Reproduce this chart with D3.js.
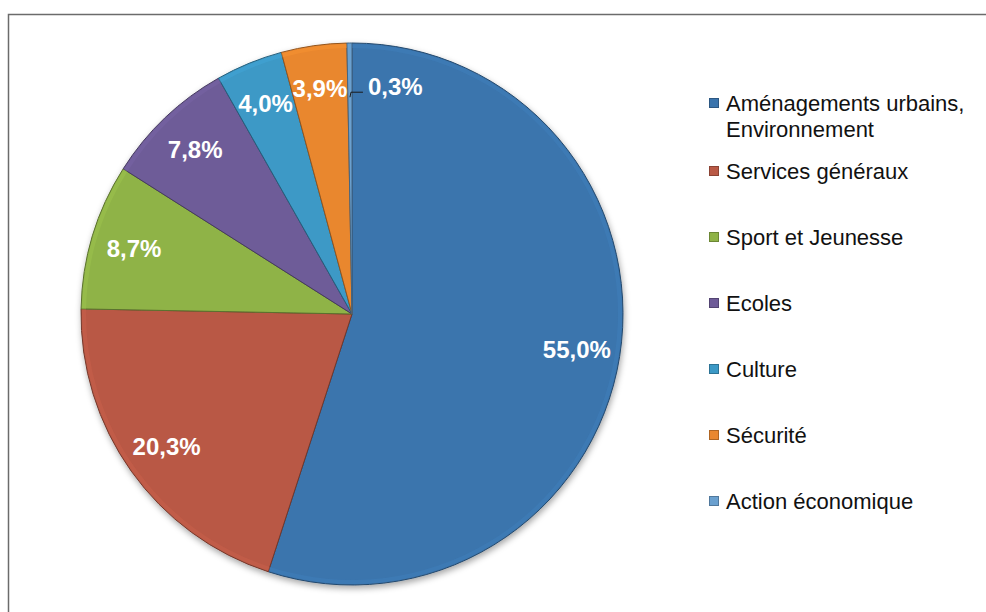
<!DOCTYPE html>
<html>
<head>
<meta charset="utf-8">
<script src="https://cdn.jsdelivr.net/npm/d3@7"></script>
<style>
  html, body { margin: 0; padding: 0; background: #fff; }
  svg { display: block; font-family: "Liberation Sans", Arial, sans-serif; }
</style>
</head>
<body>
<div id="chart"></div>
<script>
// data
const categories = ["Aménagements urbains, Environnement", "Services généraux", "Sport et Jeunesse",
    "Ecoles", "Culture", "Sécurité", "Action économique"];
const legendLines = [["Aménagements urbains,", "Environnement"], ["Services généraux"], ["Sport et Jeunesse"],
    ["Ecoles"], ["Culture"], ["Sécurité"], ["Action économique"]];
const values = [55.0, 20.3, 8.7, 7.8, 4.0, 3.9, 0.3];
const labels = ["55,0%", "20,3%", "8,7%", "7,8%", "4,0%", "3,9%", "0,3%"];
const colors = ["#3a74ad", "#b95945", "#8fb347", "#6e5b98", "#3c99c6", "#e9872f", "#6aa0cf"];

const width = 986, height = 612;
const cx = 352, cy = 314, radius = 271;

const svg = d3.select("#chart").append("svg")
    .attr("width", width)
    .attr("height", height);

// frame (only top and left edges visible)
svg.append("rect")
    .attr("x", 8.5).attr("y", 14.5)
    .attr("width", width).attr("height", height)
    .attr("fill", "none")
    .attr("stroke", "#6b6b6b")
    .attr("stroke-width", 1.5);

const defs = svg.append("defs");
const shadow = defs.append("filter").attr("id", "shadow")
    .attr("x", "-10%").attr("y", "-10%").attr("width", "120%").attr("height", "120%");
shadow.append("feDropShadow")
    .attr("dx", 1).attr("dy", 3).attr("stdDeviation", 3)
    .attr("flood-color", "#000").attr("flood-opacity", 0.35);

const pie = d3.pie().sort(null).value(d => d);
const arcs = pie(values);

const arc = d3.arc().innerRadius(0).outerRadius(radius);
const labelArc = d3.arc().innerRadius(radius * 0.84).outerRadius(radius * 0.84);
const leaderArc = d3.arc().innerRadius(radius * 0.8).outerRadius(radius * 0.8);

const g = svg.append("g").attr("transform", `translate(${cx},${cy})`);

g.append("g")
    .attr("filter", "url(#shadow)")
    .selectAll("path")
    .data(arcs)
    .enter().append("path")
    .attr("d", arc)
    .attr("fill", (d, i) => colors[i])
    .attr("stroke", (d, i) => d3.color(colors[i]).darker(1.3))
    .attr("stroke-width", 1)
    .attr("stroke-linejoin", "round");

// light bevel on the outer rim
const rim = d3.arc().innerRadius(radius - 5).outerRadius(radius - 1);
g.append("g")
    .selectAll("path")
    .data(arcs.filter(d => d.endAngle - d.startAngle > 0.05))
    .enter().append("path")
    .attr("d", rim)
    .attr("fill", (d, i) => d3.color(colors[d.index]).brighter(0.35))
    .attr("opacity", 0.35);

// labels inside slices
const big = arcs.filter(d => d.value >= 1);
g.append("g")
    .selectAll("text")
    .data(big)
    .enter().append("text")
    .attr("transform", d => `translate(${labelArc.centroid(d)})`)
    .attr("text-anchor", "middle")
    .attr("dy", "0.36em")
    .attr("fill", "#fff")
    .attr("font-weight", "bold")
    .attr("font-size", 24)
    .text(d => labels[d.index]);

// small slice label with leader line
const small = arcs.filter(d => d.value < 1);
small.forEach(d => {
    const p = leaderArc.centroid(d);
    g.append("path")
        .attr("d", `M${p[0]},${p[1]}L${p[0] + 1},${p[1] - 5}L${p[0] + 13},${p[1] - 5}`)
        .attr("fill", "none")
        .attr("stroke", "#1a1a1a")
        .attr("stroke-width", 1);
    g.append("text")
        .attr("x", p[0] + 18)
        .attr("y", p[1] - 11)
        .attr("dy", "0.36em")
        .attr("fill", "#fff")
        .attr("font-weight", "bold")
        .attr("font-size", 24)
        .text(labels[d.index]);
});

// legend
const legendX = 709;
const restY = d3.scalePoint()
    .domain(categories.slice(1))
    .range([171, 501]);
const rowY = (c, i) => i === 0 ? 103 : restY(c);

const legend = svg.append("g");
const items = legend.selectAll("g")
    .data(categories)
    .enter().append("g")
    .attr("transform", (c, i) => `translate(${legendX},${rowY(c, i)})`);

items.append("rect")
    .attr("x", 0.5).attr("y", -4.5)
    .attr("width", 9).attr("height", 9)
    .attr("fill", (c, i) => colors[i])
    .attr("stroke", (c, i) => d3.color(colors[i]).darker(0.8))
    .attr("stroke-width", 1);

items.append("text")
    .attr("x", 17)
    .attr("fill", "#111")
    .attr("font-size", 22)
    .selectAll("tspan")
    .data((c, i) => legendLines[i])
    .enter().append("tspan")
    .attr("x", 17)
    .attr("y", (t, j) => j * 26)
    .attr("dy", "0.36em")
    .text(t => t);
</script>
</body>
</html>
